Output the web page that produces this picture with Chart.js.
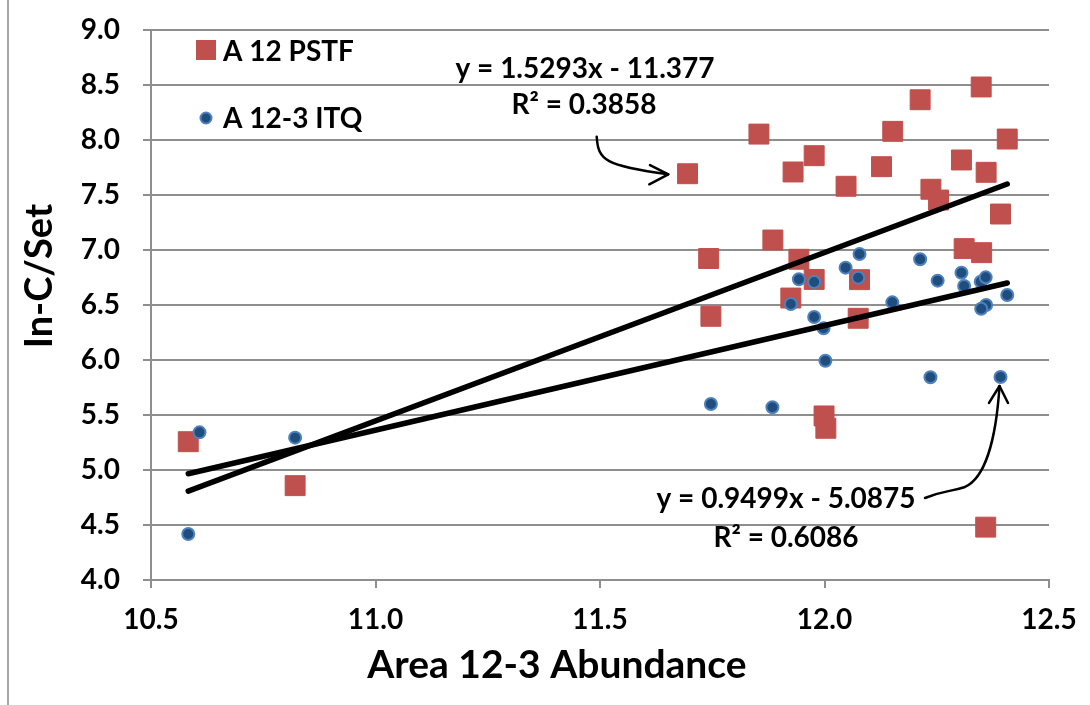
<!DOCTYPE html>
<html>
<head>
<meta charset="utf-8">
<script src="https://cdn.jsdelivr.net/npm/chart.js@4.4.0/dist/chart.umd.min.js"></script>
<style>
  html, body { margin: 0; padding: 0; background: #fff; }
  #wrap { width: 1090px; height: 705px; position: relative; }
</style>
</head>
<body>
<div id="wrap"><canvas id="chart" width="1090" height="705"></canvas></div>
<script>
// A 12 PSTF (red squares)
const pstfX = [10.583, 10.821, 11.695, 11.854, 11.930, 11.977, 12.048, 12.152, 12.127, 12.213,
  12.349, 12.407, 12.305, 12.360, 12.237, 12.254, 12.392, 11.885, 11.742, 12.311,
  12.350, 11.943, 11.977, 11.925, 12.078, 11.747, 12.075, 11.999, 12.003, 12.359];
const pstfY = [5.256, 4.857, 7.690, 8.050, 7.706, 7.854, 7.576, 8.075, 7.754, 8.362,
  8.478, 8.005, 7.815, 7.703, 7.549, 7.451, 7.324, 7.088, 6.920, 7.010,
  6.973, 6.913, 6.730, 6.561, 6.728, 6.395, 6.377, 5.490, 5.378, 4.480];

// A 12-3 ITQ (blue dots)
const itqX = [10.608, 10.821, 10.583, 11.943, 11.977, 12.047, 12.078, 12.075, 11.925, 11.977,
  11.998, 12.151, 12.213, 12.252, 12.305, 12.311, 12.348, 12.359, 12.407, 12.360,
  12.349, 12.002, 12.236, 12.392, 11.747, 11.884];
const itqY = [5.341, 5.293, 4.418, 6.731, 6.707, 6.837, 6.961, 6.746, 6.507, 6.389,
  6.286, 6.522, 6.913, 6.719, 6.791, 6.670, 6.709, 6.749, 6.589, 6.498,
  6.464, 5.992, 5.841, 5.844, 5.599, 5.569];

// trendlines as labelled on the chart
const pstfFit = { slope: 1.5293, intercept: -11.377, r2: "0.3858" };
const itqFit = { slope: 0.9499, intercept: -5.0875, r2: "0.6086" };

const seriesNames = ["A 12 PSTF", "A 12-3 ITQ"];
const xTitle = "Area 12-3 Abundance";
const yTitle = "In-C/Set";

const FONT = "Lato, 'Open Sans', sans-serif";
const RED = "#C0504D";
const BLUE_FILL = "#1F4E7E";
const BLUE_EDGE = "#4F81BD";
const GRID = "#8e8e8e";

function toPoints(xs, ys) {
  return xs.map((x, i) => ({ x: x, y: ys[i] }));
}

function fitLine(xs, fit) {
  const lo = Math.min(...xs);
  const hi = Math.max(...xs);
  return [
    { x: lo, y: fit.slope * lo + fit.intercept },
    { x: hi, y: fit.slope * hi + fit.intercept },
  ];
}

function eqText(fit) {
  const sign = fit.intercept < 0 ? " - " : " + ";
  return "y = " + fit.slope + "x" + sign + Math.abs(fit.intercept);
}

// annotation anchors, in data units
const notes = [
  { text: eqText(pstfFit), x: 11.4666, y: 8.559 },
  { text: "R\u00B2 = " + pstfFit.r2, x: 11.4644, y: 8.232 },
  { text: eqText(itqFit), x: 11.9143, y: 4.654 },
  { text: "R\u00B2 = " + itqFit.r2, x: 11.9143, y: 4.300 },
];

const arrows = [
  {
    start: [11.4927, 8.026],
    curve: [[11.4955, 7.815], [11.5111, 7.760], [11.6521, 7.685]],
    tip: [11.6521, 7.685],
    arms: [[11.6114, 7.769], [11.6098, 7.594]],
  },
  {
    start: [12.2238, 4.745],
    curve: [[12.2684, 4.817], [12.2795, 4.799], [12.3129, 4.845],
            [12.3575, 4.926], [12.3820, 5.272], [12.3898, 5.762]],
    tip: [12.3898, 5.762],
    arms: [[12.3664, 5.608], [12.4087, 5.608]],
  },
];

const legendAnchor = { x: 10.6225, textX: 10.6604, markY: [8.814, 8.196], textY: [8.714, 8.105] };

// drop the automatic label overflow padding so layout.padding decides the plot box
function noOverflow(s) {
  s.paddingTop = 0;
  s.paddingBottom = 0;
  s.paddingLeft = 0;
  s.paddingRight = 0;
}

const extras = {
  id: "extras",
  beforeDraw(chart) {
    const ctx = chart.ctx;
    ctx.save();
    ctx.strokeStyle = "#a6a6a6";
    ctx.lineWidth = 2;
    ctx.beginPath();
    ctx.moveTo(8, 0);
    ctx.lineTo(8, chart.height);
    ctx.stroke();
    ctx.restore();
  },
  afterDraw(chart) {
    // axis titles, placed off-centre like the original
    const ctx = chart.ctx;
    const area = chart.chartArea;
    ctx.save();
    ctx.fillStyle = "#000";
    ctx.textAlign = "center";
    ctx.textBaseline = "alphabetic";
    ctx.font = "bold 39px " + FONT;
    ctx.fillText(xTitle, area.left + 0.452 * (area.right - area.left), chart.height - 27);
    ctx.font = "bold 38px " + FONT;
    ctx.translate(52, area.top + 0.448 * (area.bottom - area.top));
    ctx.rotate(-Math.PI / 2);
    ctx.fillText(yTitle, 0, 0);
    ctx.restore();
  },
  afterDatasetsDraw(chart) {
    const ctx = chart.ctx;
    const xs = chart.scales.x;
    const ys = chart.scales.y;
    const px = (v) => xs.getPixelForValue(v);
    const py = (v) => ys.getPixelForValue(v);
    ctx.save();

    // equations
    ctx.fillStyle = "#000";
    ctx.font = "bold 28px " + FONT;
    ctx.textAlign = "center";
    ctx.textBaseline = "alphabetic";
    notes.forEach((n) => ctx.fillText(n.text, px(n.x), py(n.y)));

    // arrows
    ctx.strokeStyle = "#000";
    ctx.lineWidth = 2.5;
    ctx.lineCap = "round";
    ctx.lineJoin = "round";
    arrows.forEach((a) => {
      ctx.beginPath();
      ctx.moveTo(px(a.start[0]), py(a.start[1]));
      for (let i = 0; i < a.curve.length; i += 3) {
        const c = a.curve;
        ctx.bezierCurveTo(px(c[i][0]), py(c[i][1]), px(c[i + 1][0]), py(c[i + 1][1]), px(c[i + 2][0]), py(c[i + 2][1]));
      }
      ctx.stroke();
      ctx.beginPath();
      ctx.moveTo(px(a.arms[0][0]), py(a.arms[0][1]));
      ctx.lineTo(px(a.tip[0]), py(a.tip[1]));
      ctx.lineTo(px(a.arms[1][0]), py(a.arms[1][1]));
      ctx.stroke();
    });

    // legend inside plot
    const lx = px(legendAnchor.x);
    const y0 = py(legendAnchor.markY[0]);
    const y1 = py(legendAnchor.markY[1]);
    ctx.fillStyle = RED;
    ctx.fillRect(lx - 10, y0 - 10, 20, 20);
    ctx.beginPath();
    ctx.arc(lx, y1, 5.5, 0, Math.PI * 2);
    ctx.fillStyle = BLUE_FILL;
    ctx.fill();
    ctx.lineWidth = 2;
    ctx.strokeStyle = BLUE_EDGE;
    ctx.stroke();
    ctx.fillStyle = "#000";
    ctx.textAlign = "left";
    ctx.fillText(seriesNames[0], px(legendAnchor.textX), py(legendAnchor.textY[0]));
    ctx.fillText(seriesNames[1], px(legendAnchor.textX), py(legendAnchor.textY[1]));
    ctx.restore();
  },
};

const ctx = document.getElementById("chart").getContext("2d");
new Chart(ctx, {
  type: "scatter",
  data: {
    datasets: [
      {
        label: seriesNames[0],
        data: toPoints(pstfX, pstfY),
        pointStyle: "rect",
        pointRadius: 14.1,
        backgroundColor: RED,
        borderColor: RED,
        borderWidth: 1,
        order: 3,
      },
      {
        label: seriesNames[1],
        data: toPoints(itqX, itqY),
        pointStyle: "circle",
        pointRadius: 6,
        backgroundColor: BLUE_FILL,
        borderColor: BLUE_EDGE,
        borderWidth: 2,
        order: 2,
      },
      {
        label: "PSTF fit",
        data: fitLine(pstfX, pstfFit),
        showLine: true,
        pointRadius: 0,
        borderColor: "#000",
        borderWidth: 5.5,
        borderCapStyle: "round",
        order: 1,
      },
      {
        label: "ITQ fit",
        data: fitLine(itqX, itqFit),
        showLine: true,
        pointRadius: 0,
        borderColor: "#000",
        borderWidth: 5.5,
        borderCapStyle: "round",
        order: 1,
      },
    ],
  },
  options: {
    responsive: false,
    animation: false,
    layout: { padding: { top: 29.5, right: 41, bottom: 0, left: 0 } },
    plugins: {
      legend: { display: false },
      tooltip: { enabled: false },
    },
    scales: {
      x: {
        type: "linear",
        min: 10.5,
        max: 12.5,
        afterFit: (s) => { s.height = 125; noOverflow(s); },
        ticks: {
          stepSize: 0.5,
          padding: 15,
          color: "#000",
          font: { family: FONT, size: 28, weight: "bold" },
          callback: (v) => v.toFixed(1),
        },
        grid: { drawOnChartArea: false, drawTicks: true, tickLength: 8, color: GRID, lineWidth: 2 },
        border: { color: GRID, width: 2 },
      },
      y: {
        min: 4,
        max: 9,
        afterFit: (s) => { s.width = 151; noOverflow(s); },
        ticks: {
          stepSize: 0.5,
          padding: 23,
          color: "#000",
          font: { family: FONT, size: 28, weight: "bold" },
          callback: (v) => v.toFixed(1),
        },
        grid: { drawTicks: true, tickLength: 8, color: GRID, lineWidth: 2 },
        border: { color: GRID, width: 2 },
      },
    },
  },
  plugins: [extras],
});
</script>
</body>
</html>
